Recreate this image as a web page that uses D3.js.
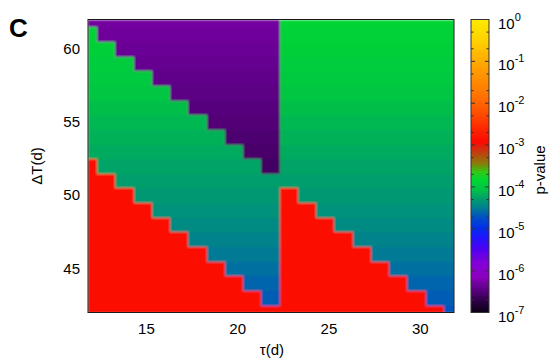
<!DOCTYPE html>
<html><head><meta charset="utf-8">
<script src="https://cdn.jsdelivr.net/npm/d3@7"></script>
<style>body{margin:0;background:#fff} text{font-family:"Liberation Sans",Arial,Helvetica,sans-serif;fill:#000}</style>
</head><body><svg id="c" width="550" height="364"></svg>
<script>
// ---- data ----
const tau = [11.8,12.8,13.8,14.8,15.8,16.8,17.8,18.8,19.8,20.8,21.8,22.8,23.8,24.8,25.8,26.8,27.8,28.8,29.8,30.8,31.8];
const deltaT = [42,43,44,45,46,47,48,49,50,51,52,53,54,55,56,57,58,59,60,61,62];
// highest ΔT of the red (high p) block in each τ column (null = none)
const redMax = [52,51,50,49,48,47,46,45,44,43,42,50,49,48,47,46,45,44,43,42,null];
// lowest ΔT of the purple (low p) block in each τ column (null = none)
const purpleMin = [62,61,60,59,58,57,56,55,54,53,52,null,null,null,null,null,null,null,null,null,null];
// log10 p-value by ΔT row (42..62)
const greenLogP = [-4.70,-4.66,-4.62,-4.57,-4.52,-4.47,-4.42,-4.37,-4.33,-4.29,-4.25,-4.21,-4.17,-4.13,-4.09,-4.04,-3.99,-3.95,-3.92,-3.89,-3.86];
const purpleLogP = [-6.66,-6.66,-6.66,-6.66,-6.66,-6.66,-6.66,-6.66,-6.64,-6.62,-6.60,-6.57,-6.54,-6.51,-6.48,-6.45,-6.42,-6.39,-6.36,-6.33,-6.30];
const redLogP = -2.9;
const xTicks = [15,20,25,30];
const yTicks = [45,50,55,60];
const cbExponents = [0,-1,-2,-3,-4,-5,-6,-7];
// colour palette: log10 p -> colour
const paletteLog = [0,-0.57,-1.0,-1.76,-2.17,-2.64,-2.93,-3.12,-3.43,-3.64,-3.83,-4.07,-4.24,-4.48,-4.72,-4.96,-5.2,-5.5,-5.8,-6.15,-6.46,-6.77,-7];
const paletteColor = ["#ffeb00","#ffcd00","#ffaa00","#ff7800","#ff5500","#ff2300","#fa0a00","#cd320f","#8c780a","#32c814","#00d732","#00c346","#00a564","#00828c","#0050c3","#0032e6","#1e14ff","#5000f0","#8200dc","#8c00be","#5a0082","#28003c","#0a0014"];

// ---- layout ----
const svg = d3.select("#c");
const X0=88, X1=454, Y0=19.5, Y1=312.5;
const x = d3.scaleLinear().domain([11.8,31.85]).range([X0,X1]);
const y = d3.scaleLinear().domain([42,62]).range([Y1,Y0]);
const color = d3.scaleLinear().domain(paletteLog).range(paletteColor).interpolate(d3.interpolateRgb).clamp(true);

const defs = svg.append("defs");
defs.append("clipPath").attr("id","plotclip").append("rect")
  .attr("x",X0).attr("y",Y0).attr("width",X1-X0).attr("height",Y1-Y0);
const filt = defs.append("filter").attr("id","soft").attr("x",0).attr("y",0).attr("width",1).attr("height",1);
filt.append("feGaussianBlur").attr("stdDeviation",1.1).attr("edgeMode","duplicate");

const cells = [];
tau.forEach((t,i)=>{
  deltaT.forEach((d,j)=>{
    let lp;
    if (redMax[i]!==null && d<=redMax[i]) lp = redLogP;
    else if (purpleMin[i]!==null && d>=purpleMin[i]) lp = purpleLogP[j];
    else lp = greenLogP[j];
    cells.push({t,d,lp});
  });
});
const xd = x.domain(), yd = y.domain();
svg.append("g").attr("clip-path","url(#plotclip)")
  .append("g").attr("filter","url(#soft)")
  .selectAll("rect").data(cells).join("rect")
  .attr("shape-rendering","crispEdges")
  .attr("x", c=>x(Math.max(c.t-0.5,xd[0])))
  .attr("width", c=>x(Math.min(c.t+0.5,xd[1]))-x(Math.max(c.t-0.5,xd[0]))+0.5)
  .attr("y", c=>y(Math.min(c.d+0.5,yd[1])))
  .attr("height", c=>y(Math.max(c.d-0.5,yd[0]))-y(Math.min(c.d+0.5,yd[1]))+0.5)
  .attr("fill", c=>color(c.lp));

svg.append("rect").attr("x",X0).attr("y",Y0).attr("width",X1-X0).attr("height",Y1-Y0)
  .attr("fill","none").attr("stroke","#1a1a1a").attr("stroke-width",1);

// axes labels
svg.append("g").selectAll("text").data(xTicks).join("text")
  .attr("x",d=>x(d)).attr("y",334).attr("text-anchor","middle").attr("font-size",15).text(d=>d);
svg.append("g").selectAll("text").data(yTicks).join("text")
  .attr("x",80).attr("y",d=>y(d)+5).attr("text-anchor","end").attr("font-size",15).text(d=>d);
svg.append("text").attr("x",272).attr("y",355).attr("text-anchor","middle").attr("font-size",15).text("τ(d)");
svg.append("text").attr("transform","translate(42,166) rotate(-90)").attr("text-anchor","middle").attr("font-size",15).text("ΔT(d)");
svg.append("text").attr("x",9).attr("y",37).attr("font-size",26).attr("font-weight","bold").text("C");

// colour bar
const CB0=471, CB1=489;
const cy = d3.scaleLinear().domain([-7,0]).range([Y1,Y0]);
const grad = defs.append("linearGradient").attr("id","cbg")
  .attr("x1",0).attr("y1",0).attr("x2",0).attr("y2",1);
grad.selectAll("stop").data(paletteLog).join("stop")
  .attr("offset",d=>(0-d)/7).attr("stop-color",(d,i)=>paletteColor[i]);
svg.append("rect").attr("x",CB0).attr("y",Y0).attr("width",CB1-CB0).attr("height",Y1-Y0)
  .attr("fill","url(#cbg)").attr("stroke","#333").attr("stroke-width",1);
const tickG = svg.append("g").attr("stroke","#333").attr("stroke-width",1);
cbExponents.forEach(e=>{
  tickG.append("line").attr("x1",CB0).attr("x2",CB0+4).attr("y1",cy(e)).attr("y2",cy(e));
  tickG.append("line").attr("x1",CB1-4).attr("x2",CB1).attr("y1",cy(e)).attr("y2",cy(e));
  if (e<0) [2,5].forEach(m=>{
    const v = e+Math.log10(m);
    tickG.append("line").attr("x1",CB0).attr("x2",CB0+2.5).attr("y1",cy(v)).attr("y2",cy(v));
    tickG.append("line").attr("x1",CB1-2.5).attr("x2",CB1).attr("y1",cy(v)).attr("y2",cy(v));
  });
});
const lab = svg.append("g").selectAll("text").data(cbExponents).join("text")
  .attr("x",498).attr("y",e=>cy(e)+9).attr("font-size",15);
lab.append("tspan").text("10");
lab.append("tspan").attr("dy",-8).attr("font-size",11).text(e=>e);
svg.append("text").attr("transform","translate(545,170) rotate(-90)").attr("text-anchor","middle").attr("font-size",15).text("p-value");
</script></body></html>
